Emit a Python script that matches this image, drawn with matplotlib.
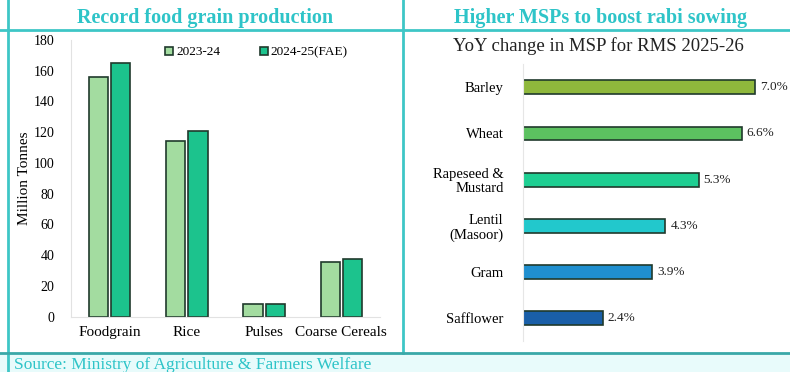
import numpy as np
import matplotlib.pyplot as plt
from matplotlib.patches import Rectangle
from matplotlib.lines import Line2D

plt.rcParams['font.family'] = ['Liberation Serif', 'DejaVu Serif']

# left panel data
grains = ["Foodgrain", "Rice", "Pulses", "Coarse Cereals"]
prod_2324 = [156, 114, 8, 35.5]
prod_2425 = [165, 120.5, 8, 37.5]
series_names = ["2023-24", "2024-25(FAE)"]
yticks = list(range(0, 181, 20))

# right panel data
crops = ["Barley", "Wheat", "Rapeseed &\nMustard", "Lentil\n(Masoor)", "Gram", "Safflower"]
msp_change = [7.0, 6.6, 5.3, 4.3, 3.9, 2.4]
msp_labels = ["7.0%", "6.6%", "5.3%", "4.3%", "3.9%", "2.4%"]

frame_col = "#3ec6c6"
title_col = "#2ec4c8"
light_green = "#a3dca0"
dark_green = "#1cc38d"
edge = "#203a2c"
crop_cols = ["#8fb83c", "#5cc160", "#1ecf92", "#22c8cc", "#1f8fcf", "#1a5fa8"]

W, H = 790, 372
fig = plt.figure(figsize=(7.9, 3.72), dpi=100)

def fx(px):
    return px / W

def fy(py):
    return 1 - py / H

# frame lines and source band
fig.patches.append(Rectangle((0, 0), 1, fy(353), transform=fig.transFigure,
                             facecolor="#e8fbfb", edgecolor="none", zorder=0))
fig.lines.append(Line2D([fx(8), fx(8)], [0, 1], transform=fig.transFigure, color=frame_col, lw=2))
fig.lines.append(Line2D([fx(403), fx(403)], [fy(353), 1], transform=fig.transFigure, color=frame_col, lw=2))
fig.lines.append(Line2D([0, 1], [fy(30), fy(30)], transform=fig.transFigure, color=frame_col, lw=2))
fig.lines.append(Line2D([0, 1], [fy(353), fy(353)], transform=fig.transFigure, color="#3aa8a8", lw=2))

fig.text(fx(205), fy(18), "Record food grain production", color=title_col,
         fontsize=14.5, fontweight="bold", ha="center", va="center")
fig.text(fx(601), fy(18), "Higher MSPs to boost rabi sowing", color=title_col,
         fontsize=14.5, fontweight="bold", ha="center", va="center")
fig.text(fx(598), fy(46), "YoY change in MSP for RMS 2025-26", color="#222222",
         fontsize=13.5, ha="center", va="center")
fig.text(fx(14), fy(365), "Source: Ministry of Agriculture & Farmers Welfare", color=title_col,
         fontsize=12.5, ha="left", va="center")

# left chart
ax1 = fig.add_axes([fx(71), fy(316.7), fx(309), (316.7 - 40) / H])
x = np.arange(len(grains))
w = 0.25
ax1.bar(x - w / 2 - 0.02, prod_2324, w, color=light_green, edgecolor=edge, lw=1.2, label=series_names[0])
ax1.bar(x + w / 2 + 0.02, prod_2425, w, color=dark_green, edgecolor=edge, lw=1.2, label=series_names[1])
ax1.set_xlim(-0.5, len(grains) - 0.5)
ax1.set_ylim(0, 180)
ax1.set_yticks(yticks)
ax1.set_xticks(x)
ax1.set_xticklabels(grains, fontsize=11)
ax1.tick_params(axis="y", labelsize=10, length=0, pad=12)
ax1.tick_params(axis="x", length=0, pad=7)
for s in ["top", "right"]:
    ax1.spines[s].set_visible(False)
for s in ["left", "bottom"]:
    ax1.spines[s].set_color("#e2e2e2")
ax1.set_ylabel("Million Tonnes", fontsize=11, labelpad=2)
ax1.legend(loc="upper center", bbox_to_anchor=(0.6, 1.02), ncol=2, frameon=False,
           fontsize=9.5, handlelength=0.6, handleheight=0.6, handletextpad=0.2, columnspacing=3)

# right chart
ax2 = fig.add_axes([fx(523), fy(341.4), fx(265), 277.2 / H])
y = np.arange(len(crops))
ax2.barh(y, msp_change, 0.3, color=crop_cols, edgecolor=edge, lw=1.2)
for yi, v, lab in zip(y, msp_change, msp_labels):
    ax2.text(v + 0.15, yi, lab, va="center", ha="left", fontsize=9.5, color="#222222")
ax2.set_ylim(len(crops) - 0.5, -0.5)
ax2.set_xlim(0, 8)
ax2.set_yticks(y)
ax2.set_yticklabels(crops, fontsize=10.5, linespacing=1.1)
ax2.set_xticks([])
ax2.tick_params(axis="y", length=0, pad=14)
for s in ["top", "right", "bottom"]:
    ax2.spines[s].set_visible(False)
ax2.spines["left"].set_color("#e6e6e6")

fig.savefig("out.png", dpi=100)
